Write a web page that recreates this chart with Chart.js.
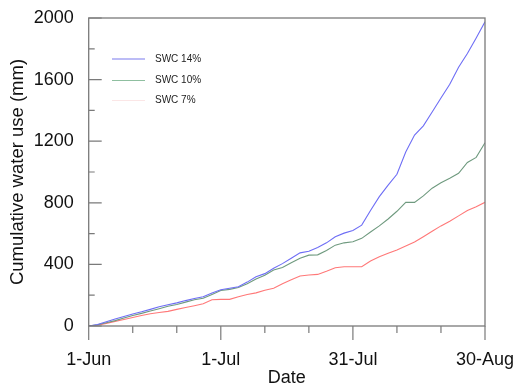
<!DOCTYPE html>
<html><head><meta charset="utf-8">
<script src="https://cdn.jsdelivr.net/npm/chart.js@4/dist/chart.umd.min.js"></script>
<style>html,body{margin:0;padding:0;background:#fff}#wrap{width:516px;height:391px}</style>
</head><body><div id="wrap"><canvas id="c" width="516" height="391"></canvas></div>
<script>
const days = [0,2,4,6,8,10,12,14,16,18,20,22,24,26,28,30,32,34,36,38,40,42,44,46,48,50,52,54,56,58,60,62,64,66,68,70,72,74,76,78,80,82,84,86,88,90];
const swc14 = [0,10,28,45,62,78,92,108,125,138,150,165,178,190,215,235,245,255,285,320,340,375,405,440,475,485,510,540,580,603,620,655,750,840,915,985,1130,1240,1300,1390,1480,1570,1680,1770,1870,1975];
const swc10 = [0,8,21,35,52,68,82,97,112,128,140,155,170,180,205,230,238,250,275,305,330,364,380,410,440,460,462,490,525,540,547,569,610,650,695,745,803,803,845,895,930,960,992,1062,1095,1190];
const swc7  = [0,5,17,30,42,55,68,80,88,95,108,120,132,145,170,173,173,190,205,215,232,245,275,300,325,331,335,355,378,385,385,385,422,450,472,494,520,545,580,615,650,680,715,750,775,803];
const seriesLabels = ['SWC 14%','SWC 10%','SWC 7%'];
const xTickDays = [0,30,60,90];
const xTickLabels = ['1-Jun','1-Jul','31-Jul','30-Aug'];
const yLabelStep = 400;

const lineColors = ['#6e6ef5','#6f9a7f','#ff7878'];
const legendColors = ['#7a7aee','#8fbfa0','#fbe6e6'];
const mk = (arr) => days.map((d,i)=>({x:d,y:arr[i]}));

const axisPlugin = {
  id:'axisPlugin',
  afterDatasetsDraw(chart){
    const {ctx, chartArea:a, scales:{x,y}} = chart;
    ctx.save();
    ctx.strokeStyle='#7a7a7a';
    ctx.lineWidth=1.3;
    ctx.strokeRect(a.left, a.top, a.right-a.left, a.bottom-a.top);
    ctx.lineWidth=1.2;
    ctx.beginPath();
    y.ticks.forEach(t=>{
      const py = y.getPixelForValue(t.value);
      const len = (t.value % yLabelStep === 0) ? 13 : 6;
      ctx.moveTo(a.left, py); ctx.lineTo(a.left+len, py);
    });
    x.ticks.forEach(t=>{
      const px = x.getPixelForValue(t.value);
      const len = xTickDays.includes(t.value) ? 14 : 7;
      ctx.moveTo(px, a.bottom); ctx.lineTo(px, a.bottom+len);
    });
    ctx.stroke();
    // legend
    ctx.font='10px "Liberation Sans", Arial, sans-serif';
    ctx.textBaseline='middle';
    ctx.fillStyle='#222';
    const ys=[59,80.5,100.5];
    chart.data.datasets.forEach((ds,i)=>{
      ctx.strokeStyle=legendColors[i]; ctx.lineWidth=1.2;
      ctx.beginPath(); ctx.moveTo(112,ys[i]); ctx.lineTo(145,ys[i]); ctx.stroke();
      ctx.fillText(ds.label,155,ys[i]);
    });
    ctx.restore();
  }
};

new Chart(document.getElementById('c'),{
  type:'line',
  data:{datasets:[
    {label:seriesLabels[0],data:mk(swc14),borderColor:lineColors[0],borderWidth:1.1,pointRadius:0,tension:0},
    {label:seriesLabels[1],data:mk(swc10),borderColor:lineColors[1],borderWidth:1.1,pointRadius:0,tension:0},
    {label:seriesLabels[2],data:mk(swc7),borderColor:lineColors[2],borderWidth:1.1,pointRadius:0,tension:0}
  ]},
  options:{
    responsive:false,animation:false,
    layout:{padding:{top:18,right:31,left:0,bottom:0}},
    plugins:{legend:{display:false},tooltip:{enabled:false}},
    scales:{
      x:{type:'linear',min:0,max:90,
        grid:{display:false},border:{display:false},
        ticks:{stepSize:10,autoSkip:false,maxRotation:0,padding:15,color:'#111',
          font:{family:'"Liberation Sans", Arial, sans-serif',size:18},
          callback:(v)=>{const k=xTickDays.indexOf(v);return k>=0?xTickLabels[k]:'';}},
        title:{display:true,text:'Date',color:'#111',padding:{top:0,bottom:2},
          font:{family:'"Liberation Sans", Arial, sans-serif',size:18}},
        afterFit:(s)=>{s.height=65;s.paddingLeft=0;s.paddingRight=0;}
      },
      y:{min:0,max:2000,
        grid:{display:false},border:{display:false},
        ticks:{stepSize:200,autoSkip:false,padding:7,color:'#111',
          font:{family:'"Liberation Sans", Arial, sans-serif',size:18},
          callback:(v)=> v%yLabelStep===0 ? String(v) : ''},
        title:{display:true,text:'Cumulative water use (mm)',color:'#111',padding:{top:7,bottom:0},
          font:{family:'"Liberation Sans", Arial, sans-serif',size:18.5}},
        afterFit:(s)=>{s.width=88.7;s.paddingTop=0;s.paddingBottom=0;}
      }
    }
  },
  plugins:[axisPlugin]
});
</script></body></html>
